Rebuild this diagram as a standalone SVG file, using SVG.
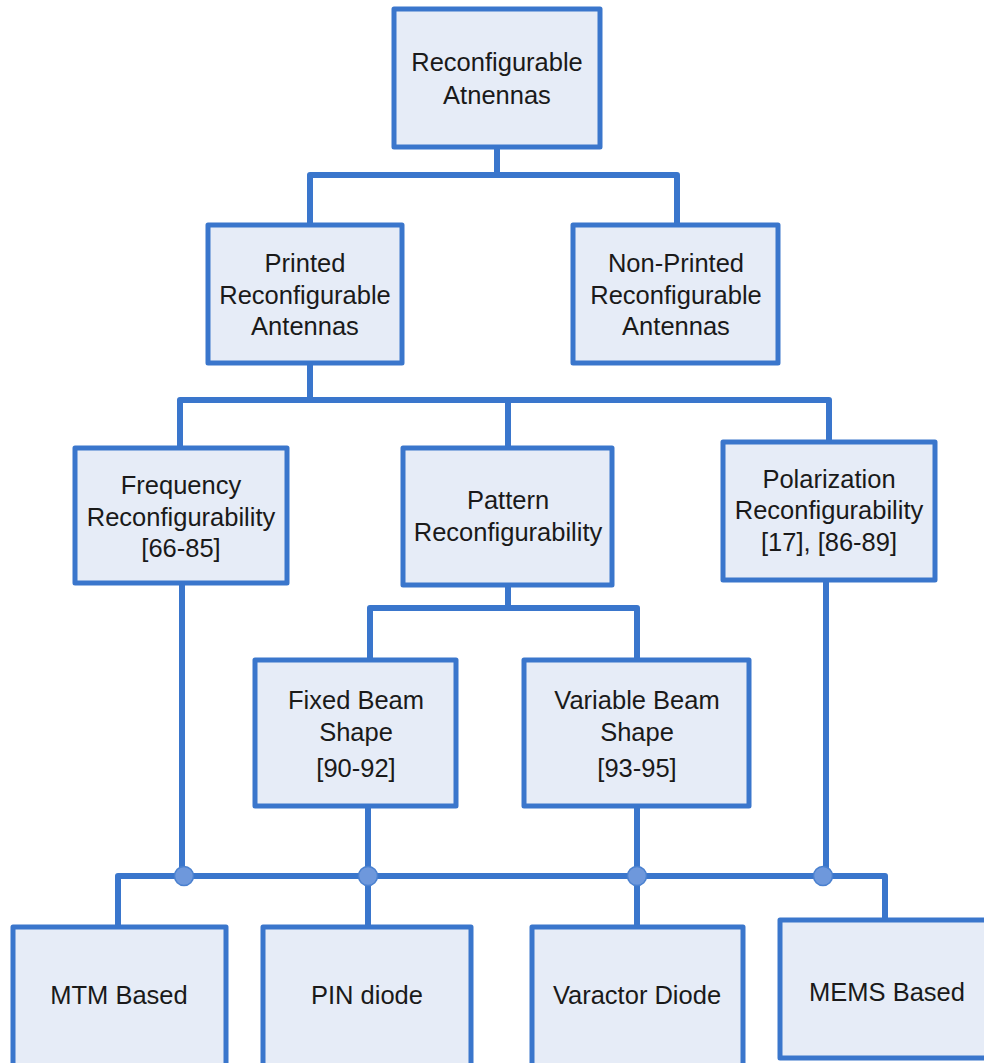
<svg xmlns="http://www.w3.org/2000/svg" width="984" height="1063" viewBox="0 0 984 1063">
<style>
.box{fill:#e6ecf7;stroke:#3a76cc;stroke-width:5;stroke-linejoin:round}
.ln{fill:none;stroke:#3a76cc;stroke-width:6;stroke-linejoin:round}
.dot{fill:#6e98dc;stroke:#4a80cf;stroke-width:1.5}
text{font-family:"Liberation Sans",Arial,sans-serif;font-size:25.5px;fill:#1a1a1a;text-anchor:middle}
</style>
<rect width="984" height="1063" fill="#ffffff"/>
<g id="connectors">
<path class="ln" d="M497 147V175M310 225V175H677V225"/>
<path class="ln" d="M310 363V400M180 448V400H829V442M508 400V448"/>
<path class="ln" d="M508 585V608M370 660V608H637V660"/>
<path class="ln" d="M182 583V876M826 580V876"/>
<path class="ln" d="M118 927V876H885V920"/>
<path class="ln" d="M368 806V927M637 806V927"/>
<circle class="dot" cx="184" cy="876" r="9.5"/>
<circle class="dot" cx="368" cy="876" r="9.5"/>
<circle class="dot" cx="637" cy="876" r="9.5"/>
<circle class="dot" cx="823" cy="876" r="9.5"/>
</g>
<g id="n-root"><rect class="box" x="394" y="9" width="206" height="138"/><text x="497" y="71">Reconfigurable</text><text x="497" y="104">Atnennas</text></g>
<g id="n-printed"><rect class="box" x="208" y="225" width="194" height="138"/><text x="305" y="272">Printed</text><text x="305" y="304">Reconfigurable</text><text x="305" y="335">Antennas</text></g>
<g id="n-nonprinted"><rect class="box" x="573" y="225" width="205" height="138"/><text x="676" y="272">Non-Printed</text><text x="676" y="304">Reconfigurable</text><text x="676" y="335">Antennas</text></g>
<g id="n-freq"><rect class="box" x="75" y="448" width="212" height="135"/><text x="181" y="494">Frequency</text><text x="181" y="526">Reconfigurability</text><text x="181" y="557">[66-85]</text></g>
<g id="n-pattern"><rect class="box" x="403" y="448" width="209" height="137"/><text x="508" y="509">Pattern</text><text x="508" y="541">Reconfigurability</text></g>
<g id="n-polar"><rect class="box" x="723" y="442" width="212" height="138"/><text x="829" y="488">Polarization</text><text x="829" y="519">Reconfigurability</text><text x="829" y="551">[17], [86-89]</text></g>
<g id="n-fixed"><rect class="box" x="255" y="660" width="201" height="146"/><text x="356" y="709">Fixed Beam</text><text x="356" y="741">Shape</text><text x="356" y="777">[90-92]</text></g>
<g id="n-variable"><rect class="box" x="524" y="660" width="225" height="146"/><text x="637" y="709">Variable Beam</text><text x="637" y="741">Shape</text><text x="637" y="777">[93-95]</text></g>
<g id="n-mtm"><rect class="box" x="13" y="927" width="213" height="145"/><text x="119" y="1004">MTM Based</text></g>
<g id="n-pin"><rect class="box" x="263" y="927" width="208" height="145"/><text x="367" y="1004">PIN diode</text></g>
<g id="n-varactor"><rect class="box" x="532" y="927" width="211" height="145"/><text x="637" y="1004">Varactor Diode</text></g>
<g id="n-mems"><rect class="box" x="780" y="920" width="215" height="138"/><text x="887" y="1001">MEMS Based</text></g>
</svg>
